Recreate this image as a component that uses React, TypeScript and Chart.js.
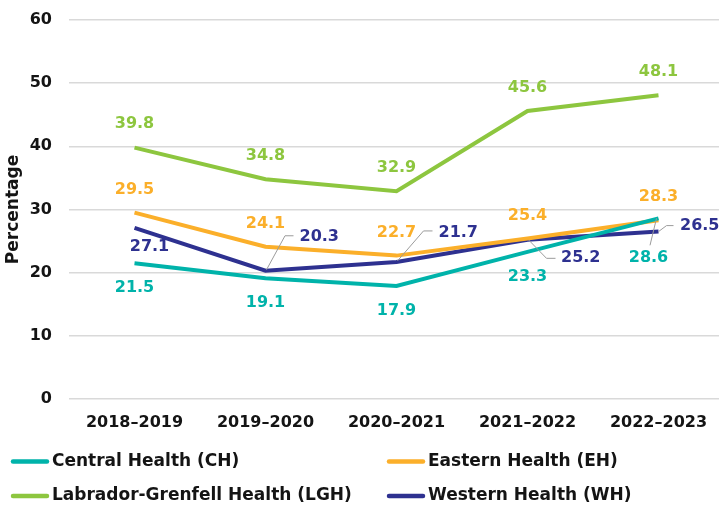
import React, { useEffect, useRef } from "react";
import { Chart, registerables } from "chart.js";

Chart.register(...registerables);

const categories = ["2018–2019", "2019–2020", "2020–2021", "2021–2022", "2022–2023"];
const centralHealth = [21.5, 19.1, 17.9, 23.3, 28.6];
const easternHealth = [29.5, 24.1, 22.7, 25.4, 28.3];
const labradorGrenfell = [39.8, 34.8, 32.9, 45.6, 48.1];
const westernHealth = [27.1, 20.3, 21.7, 25.2, 26.5];
const seriesNames = [
  "Central Health (CH)",
  "Eastern Health (EH)",
  "Labrador-Grenfell Health (LGH)",
  "Western Health (WH)",
];
const seriesColors = ["#00B3AA", "#FBAF2A", "#8DC63F", "#2E3190"];
const yMin = 0;
const yMax = 60;
const yStep = 10;

const FONT = "'DejaVu Sans', sans-serif";
const TEXT = "#141414";

type Place = { dx: number; dy: number; align: CanvasTextAlign; leader?: [number, number][] };
const above: Place = { dx: 0, dy: -23.5, align: "center" };
const aboveE: Place = { dx: 0, dy: -23, align: "center" };
const below: Place = { dx: 0, dy: 24.8, align: "center" };
const labelPlacement: Place[][] = [
  [below, below, below, below, { dx: -10, dy: 40, align: "center", leader: [[-2, 0], [-8.5, 27]] }],
  [aboveE, aboveE, aboveE, aboveE, aboveE],
  [above, above, above, above, above],
  [
    { dx: 15, dy: 19, align: "center" },
    { dx: 34, dy: -34, align: "left", leader: [[1, -1], [19.5, -35], [28, -35]] },
    { dx: 42, dy: -29.5, align: "left", leader: [[1, -1], [27, -31], [36, -31]] },
    { dx: 33.5, dy: 18.5, align: "left", leader: [[1, 0], [19, 18.5], [28, 18.5]] },
    { dx: 21.5, dy: -5.6, align: "left", leader: [[0, 0], [8, -6], [15, -6]] },
  ],
];

const dataLabelPlugin = {
  id: "dataLabels",
  afterDatasetsDraw(chart: any) {
    const ctx = chart.ctx as CanvasRenderingContext2D;
    ctx.save();
    chart.data.datasets.forEach((ds: any, di: number) => {
      const meta = chart.getDatasetMeta(di);
      meta.data.forEach((pt: any, i: number) => {
        const p = labelPlacement[di][i];
        if (p.leader) {
          ctx.beginPath();
          ctx.strokeStyle = "#9b9b9b";
          ctx.lineWidth = 1;
          p.leader.forEach(([lx, ly], k) => {
            if (k === 0) ctx.moveTo(pt.x + lx, pt.y + ly);
            else ctx.lineTo(pt.x + lx, pt.y + ly);
          });
          ctx.stroke();
        }
        ctx.font = `bold 16px ${FONT}`;
        ctx.fillStyle = ds.borderColor;
        ctx.textAlign = p.align;
        ctx.textBaseline = "middle";
        ctx.fillText(String(ds.data[i]), pt.x + p.dx, pt.y + p.dy);
      });
    });
    ctx.restore();
  },
};

const legendPlugin = {
  id: "customLegend",
  afterDraw(chart: any) {
    const ctx = chart.ctx as CanvasRenderingContext2D;
    const cols = [11, 387];
    const rows = [461.5, 496];
    ctx.save();
    chart.data.datasets.forEach((ds: any, i: number) => {
      const x = cols[i % 2];
      const y = rows[Math.floor(i / 2)];
      ctx.beginPath();
      ctx.strokeStyle = ds.borderColor;
      ctx.lineWidth = 4.5;
      ctx.lineCap = "round";
      ctx.moveTo(x + 2, y);
      ctx.lineTo(x + 36, y);
      ctx.stroke();
      ctx.font = `bold 17px ${FONT}`;
      ctx.fillStyle = TEXT;
      ctx.textAlign = "left";
      ctx.textBaseline = "middle";
      ctx.fillText(ds.label, x + 41, y);
    });
    ctx.restore();
  },
};

export default function App() {
  const ref = useRef<HTMLCanvasElement | null>(null);
  useEffect(() => {
    if (!ref.current) return;
    const series = [centralHealth, easternHealth, labradorGrenfell, westernHealth];
    const chart = new Chart(ref.current, {
      type: "line",
      data: {
        labels: categories,
        datasets: series.map((d, i) => ({
          label: seriesNames[i],
          data: d,
          borderColor: seriesColors[i],
          backgroundColor: seriesColors[i],
          borderWidth: 4,
          pointRadius: 0,
          tension: 0,
          fill: false,
        })),
      },
      options: {
        animation: false,
        responsive: false,
        maintainAspectRatio: false,
        layout: { padding: { top: 20, left: 0, right: 0, bottom: 0 } },
        plugins: { legend: { display: false }, tooltip: { enabled: false } },
        scales: {
          x: {
            type: "category",
            offset: true,
            grid: { display: false, drawTicks: false },
            border: { display: false },
            ticks: {
              font: { family: FONT, size: 16, weight: "bold" },
              color: TEXT,
              padding: 14,
              maxRotation: 0,
              autoSkip: false,
            },
            afterFit: (s: any) => {
              s.height = 109;
            },
          },
          y: {
            min: yMin,
            max: yMax,
            ticks: {
              stepSize: yStep,
              padding: 17,
              font: { family: FONT, size: 16, weight: "bold" },
              color: TEXT,
            },
            grid: { color: "#d9d9d9", lineWidth: 1.5, drawTicks: false },
            border: { display: false },
            title: {
              display: true,
              text: "Percentage",
              font: { family: FONT, size: 17, weight: "bold" },
              color: TEXT,
              padding: { top: 3, bottom: 0 },
            },
            afterFit: (s: any) => {
              s.width = 69;
              s.paddingTop = 0;
              s.paddingBottom = 0;
            },
          },
        },
      },
      plugins: [dataLabelPlugin, legendPlugin],
    });
    return () => chart.destroy();
  }, []);

  return (
    <div style={{ position: "absolute", left: 0, top: 0, width: 719, height: 508, overflow: "hidden", background: "#fff" }}>
      <canvas ref={ref} width={724} height={508} style={{ display: "block" }} />
    </div>
  );
}
